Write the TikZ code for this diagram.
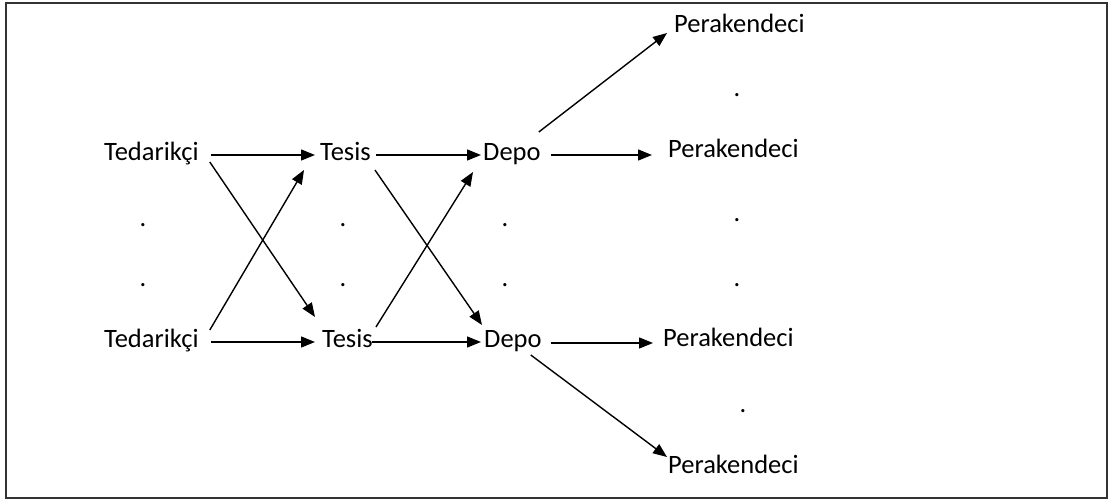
\documentclass[tikz,border=0pt]{standalone}
\usepackage{fontspec}
\setmainfont{Carlito}
\usetikzlibrary{arrows.meta,calc}
\begin{document}
\begin{tikzpicture}[x=1pt,y=-1pt,
  lbl/.style={inner sep=0pt,anchor=base west,font=\fontsize{26.5}{31}\selectfont},
  dotnode/.style={inner sep=0pt,anchor=base,font=\fontsize{26.5}{31}\selectfont},
  conn/.style={line width=1.4pt,-{Triangle[length=14pt,width=11pt]}}]
\useasboundingbox (0,0) rectangle (1109,503);
\draw[line width=1.6pt,black!80] (6,3) rectangle (1107,498);
% nodes
\node[lbl] (T1) at (104,160) {Tedarikçi};
\node[lbl] (T2) at (104,347) {Tedarikçi};
\node[lbl] (S1) at (320,160) {Tesis};
\node[lbl] (S2) at (322,347) {Tesis};
\node[lbl] (D1) at (483,160) {Depo};
\node[lbl] (D2) at (484,347) {Depo};
\node[lbl] (P1) at (674,33) {Perakendeci};
\node[lbl] (P2) at (668,157) {Perakendeci};
\node[lbl] (P3) at (663,346) {Perakendeci};
\node[lbl] (P4) at (668,473) {Perakendeci};
% dots
\node[dotnode] (d1) at (143,226) {.};
\node[dotnode] (d2) at (143,286) {.};
\node[dotnode] (d3) at (343,226) {.};
\node[dotnode] (d4) at (343,286) {.};
\node[dotnode] (d5) at (505,226) {.};
\node[dotnode] (d6) at (505,286) {.};
\node[dotnode] (d7) at (737,96) {.};
\node[dotnode] (d8) at (737,221) {.};
\node[dotnode] (d9) at (737,286) {.};
\node[dotnode] (d10) at (743,412) {.};
% connectors
\draw[conn] ($(T1.base east)+(12,-5)$) -- ($(S1.base west)+(-5,-5)$);
\draw[conn] ($(T1.base east)+(11,2)$) -- ($(S2.base west)+(-7,-30)$);
\draw[conn] ($(T2.base east)+(11,-17)$) -- ($(S1.base west)+(-16,10)$);
\draw[conn] ($(T2.base east)+(12,-5)$) -- ($(S2.base west)+(-7,-5)$);
\draw[conn] ($(S1.base east)+(5,-5)$) -- ($(D1.base west)+(-2,-5)$);
\draw[conn] ($(S1.base east)+(4,10)$) -- ($(D2.base west)+(-2,-22)$);
\draw[conn] ($(S2.base east)+(3,-20)$) -- ($(D1.base west)+(-10,12)$);
\draw[conn] ($(S2.base east)+(-1,-5)$) -- ($(D2.base west)+(-3,-5)$);
\draw[conn] ($(D1.base east)+(-2,-28)$) -- ($(P1.base west)+(-7,0)$);
\draw[conn] ($(D1.base east)+(10,-5)$) -- ($(P2.base west)+(-16,-2)$);
\draw[conn] ($(D2.base east)+(9,-4)$) -- ($(P3.base west)+(-10,-3)$);
\draw[conn] ($(D2.base east)+(-11,8)$) -- ($(P4.base west)+(-1,-16)$);
\end{tikzpicture}
\end{document}
